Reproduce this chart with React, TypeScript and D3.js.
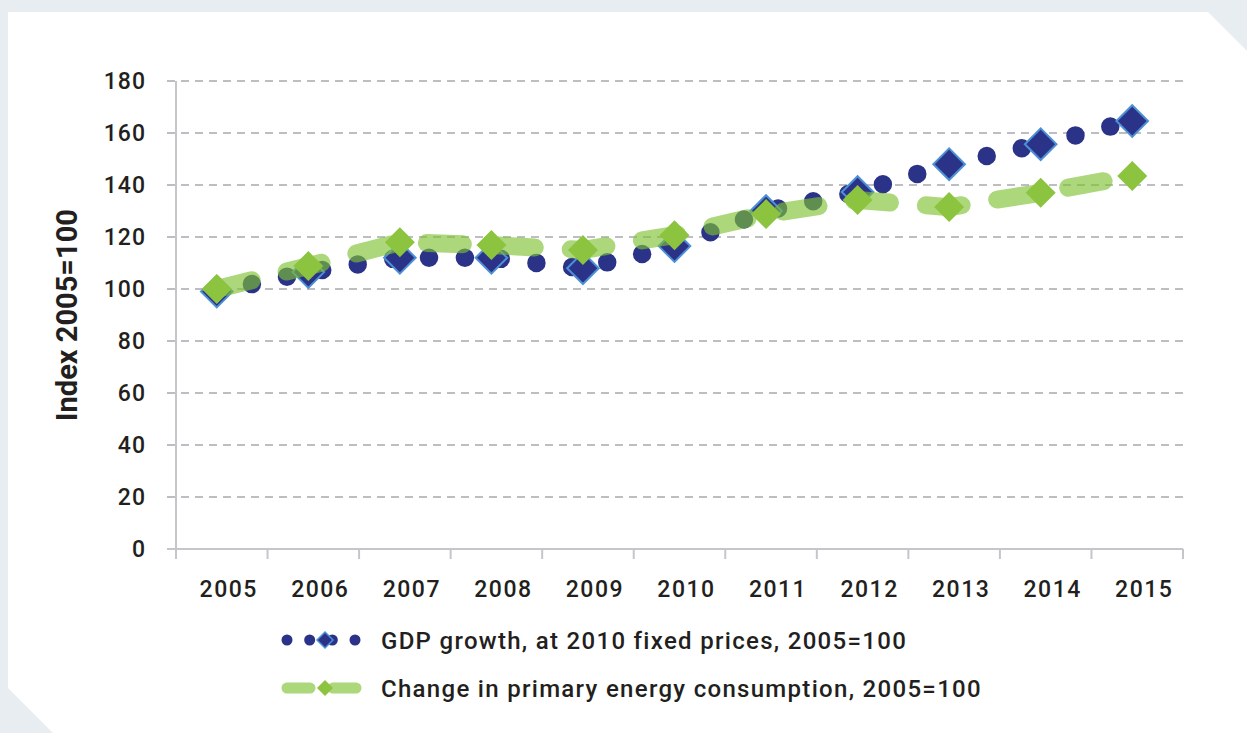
import React from "react";
import * as d3 from "d3";

const years = ["2005", "2006", "2007", "2008", "2009", "2010", "2011", "2012", "2013", "2014", "2015"];
const gdpValues = [99, 106.5, 112, 112, 108, 116.5, 130, 137.3, 148, 155.7, 164.6];
const energyValues = [100, 108.8, 118, 116.9, 115, 120.7, 128.8, 134.2, 131.5, 137, 143.5];
const yTicks = [0, 20, 40, 60, 80, 100, 120, 140, 160, 180];
const gdpLabel = "GDP growth, at 2010 fixed prices, 2005=100";
const energyLabel = "Change in primary energy consumption, 2005=100";
const yTitle = "Index 2005=100";

const W = 1247;
const H = 733;
const NAVY = "#2b3388";
const EDGE = "#4d90d6";
const GREEN = "#8cc43f";
const GREEN_LINE = "#7fc031";
const GRID = "#bdbdc2";
const AXIS = "#c6c6ca";
const TEXT = "#231f20";
const FONT = "Roboto, 'DejaVu Sans', sans-serif";

const diamond = (x: number, y: number, r: number) =>
  `M${x},${y - r}L${x + r},${y}L${x},${y + r}L${x - r},${y}Z`;

export default function App() {
  const plotLeft = 176;
  const plotRight = 1183;
  const plotTop = 81;
  const plotBottom = 549;

  const x = d3.scaleBand<string>().domain(years).range([plotLeft, plotRight]).padding(0);
  const y = d3.scaleLinear().domain([0, 180]).range([plotBottom, plotTop]);
  const markerShift = -5;
  const cx = (yr: string) => (x(yr) as number) + x.bandwidth() / 2 + markerShift;

  const pts = (vals: number[]) => vals.map((v, i) => [cx(years[i]), y(v)] as [number, number]);
  const line = d3.line<[number, number]>();

  const gdpPts = pts(gdpValues);
  const energyPts = pts(energyValues);
  const last = gdpPts.length - 1;

  const edges = d3.range(years.length + 1).map((i) => plotLeft + i * x.bandwidth());

  return (
    <svg
      width={W}
      height={H}
      style={{ position: "absolute", left: 0, top: 0, background: "#e8edf2" }}
    >
      <path d={`M8,12L1208,12L${W},51L${W},${H}L53,${H}L8,688Z`} fill="#ffffff" />
      {/* gridlines */}
      {yTicks.slice(1).map((t) => (
        <line
          key={t}
          x1={167}
          x2={plotRight}
          y1={y(t)}
          y2={y(t)}
          stroke={GRID}
          strokeWidth={2}
          strokeDasharray="8 6"
        />
      ))}
      {/* axes */}
      <line x1={plotLeft} x2={plotLeft} y1={plotTop} y2={plotBottom + 10} stroke={AXIS} strokeWidth={2} />
      <line x1={167} x2={plotRight} y1={plotBottom} y2={plotBottom} stroke={AXIS} strokeWidth={2} />
      {edges.map((e, i) => (
        <line key={i} x1={e} x2={e} y1={plotBottom} y2={plotBottom + 10} stroke={AXIS} strokeWidth={2} />
      ))}
      {/* y tick labels */}
      {yTicks.map((t) => (
        <text
          key={t}
          x={146}
          y={y(t)}
          dy="0.36em"
          textAnchor="end"
          fontFamily={FONT}
          fontWeight={500}
          fontSize={23}
          letterSpacing={1}
          fill={TEXT}
        >
          {t}
        </text>
      ))}
      {/* x tick labels */}
      {years.map((yr) => (
        <text
          key={yr}
          x={(x(yr) as number) + x.bandwidth() / 2 + 7}
          y={589}
          dy="0.36em"
          textAnchor="middle"
          fontFamily={FONT}
          fontWeight={500}
          fontSize={23}
          letterSpacing={1.5}
          fill={TEXT}
        >
          {yr}
        </text>
      ))}
      {/* y title */}
      <text
        transform={`translate(67,315) rotate(-90)`}
        dy="0.36em"
        textAnchor="middle"
        fontFamily={FONT}
        fontWeight={700}
        fontSize={29}
        fill={TEXT}
      >
        {yTitle}
      </text>

      {/* GDP series */}
      <path
        d={line(gdpPts.slice(0, last)) as string}
        fill="none"
        stroke={NAVY}
        strokeWidth={18.5}
        strokeLinecap="round"
        strokeDasharray="0 35.9"
      />
      <path
        d={line(gdpPts.slice(last - 1)) as string}
        fill="none"
        stroke={NAVY}
        strokeWidth={18.5}
        strokeLinecap="round"
        strokeDasharray="0 35.9"
      />
      {gdpPts.map((p, i) => (
        <path key={i} d={diamond(p[0], p[1], 15.8)} fill={NAVY} stroke={EDGE} strokeWidth={2} />
      ))}

      {/* Energy series */}
      <path
        d={line(energyPts) as string}
        fill="none"
        stroke={GREEN_LINE}
        strokeOpacity={0.64}
        strokeWidth={18}
        strokeLinecap="round"
        strokeDasharray="36 36"
      />
      {energyPts.map((p, i) => (
        <path key={i} d={diamond(p[0], p[1], 15)} fill={GREEN} />
      ))}

      {/* legend */}
      <g>
        <line
          x1={287}
          x2={356}
          y1={640}
          y2={640}
          stroke={NAVY}
          strokeWidth={11}
          strokeLinecap="round"
          strokeDasharray="0 22.67"
        />
        <path d={diamond(325, 640, 8)} fill={NAVY} stroke={EDGE} strokeWidth={1.5} />
        <text
          x={381}
          y={640}
          dy="0.36em"
          fontFamily={FONT}
          fontWeight={500}
          fontSize={24}
          letterSpacing={1.3}
          fill={TEXT}
        >
          {gdpLabel}
        </text>
        <line
          x1={287}
          x2={356}
          y1={688}
          y2={688}
          stroke={GREEN_LINE}
          strokeOpacity={0.64}
          strokeWidth={11}
          strokeLinecap="round"
          strokeDasharray="23 23"
        />
        <path d={diamond(325, 688, 8)} fill={GREEN} />
        <text
          x={381}
          y={688}
          dy="0.36em"
          fontFamily={FONT}
          fontWeight={500}
          fontSize={24}
          letterSpacing={1.3}
          fill={TEXT}
        >
          {energyLabel}
        </text>
      </g>
    </svg>
  );
}
